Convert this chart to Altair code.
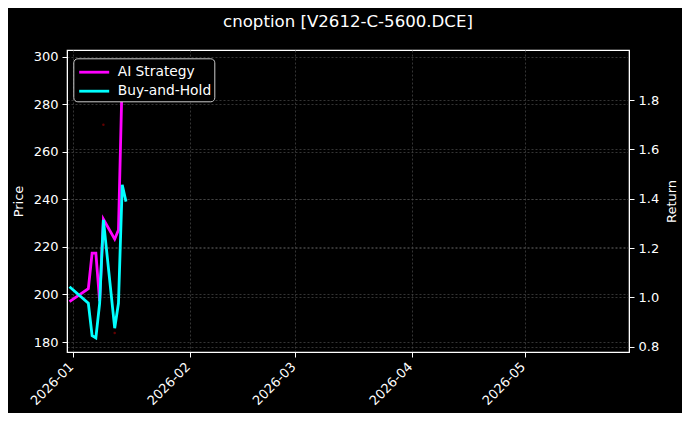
import altair as alt
import pandas as pd

# data
dates = ["2025-12-31", "2026-01-05", "2026-01-06", "2026-01-07", "2026-01-08",
         "2026-01-09", "2026-01-12", "2026-01-13", "2026-01-14", "2026-01-15"]
ai_strategy = [0.983, 1.035, 1.179, 1.179, 0.985, 1.317, 1.236, 1.273, 1.90, 1.947]
buy_hold = [1.043, 0.976, 0.845, 0.836, 0.976, 1.314, 0.875, 0.976, 1.456, 1.388]

signal_dates = ["2026-01-09", "2026-01-12"]
signal_prices = [271.4, 183.8]

month_ticks = [1, 2, 3, 4, 5]
price_ticks = [180, 200, 220, 240, 260, 280, 300]
return_ticks = [0.8, 1.0, 1.2, 1.4, 1.6, 1.8]

returns = pd.DataFrame({
    "date": [d + "T00:00:00" for d in dates] * 2,
    "value": ai_strategy + buy_hold,
    "series": ["AI Strategy"] * len(dates) + ["Buy-and-Hold"] * len(dates),
})
signals = pd.DataFrame({
    "date": [d + "T00:00:00" for d in signal_dates],
    "price": signal_prices,
})

font = "DejaVu Sans"
grid = dict(grid=True, gridColor="#4a4a4a", gridDash=[2, 2], gridWidth=0.7)

x_enc = alt.X(
    "date:T",
    scale=alt.Scale(domain=[alt.DateTime(year=2025, month=12, date=30, hours=8),
                            alt.DateTime(year=2026, month=5, date=28, hours=14)]),
    axis=alt.Axis(
        values=[alt.DateTime(year=2026, month=m, date=1) for m in month_ticks],
        format="%Y-%m", labelAngle=315, labelAlign="right", labelBaseline="top",
        labelOffset=-6.5, labelPadding=3, title=None, **grid,
    ),
)

price_layer = alt.Chart(signals).mark_circle(size=6, color="#8b0000", opacity=0.7).encode(
    x=x_enc,
    y=alt.Y("price:Q", scale=alt.Scale(domain=[175.8, 302.9], nice=False, zero=False),
            axis=alt.Axis(orient="left", values=price_ticks, title="Price", titlePadding=8, **grid)),
)

return_layer = alt.Chart(returns).mark_line(strokeWidth=2.8).encode(
    x=x_enc,
    y=alt.Y("value:Q", scale=alt.Scale(domain=[0.7785, 2.003], nice=False, zero=False),
            axis=alt.Axis(orient="right", values=return_ticks, format=".1f",
                          title="Return", titleAngle=270, titleBaseline="top",
                          titlePadding=7, **grid)),
    color=alt.Color(
        "series:N",
        scale=alt.Scale(domain=["AI Strategy", "Buy-and-Hold"], range=["#ff00ff", "#00ffff"]),
        legend=alt.Legend(
            title=None, orient="none", legendX=6.3, legendY=8.3,
            fillColor="#000000", strokeColor="#cccccc", cornerRadius=4, padding=2.4,
            symbolType="M-1.5,0L1.5,0", symbolSize=400, symbolStrokeWidth=2.8,
            symbolOffset=7, labelOffset=12, labelExpr="datum.label + ' '",
            labelFontSize=13.8, labelColor="white", labelFont=font, rowPadding=0,
        ),
    ),
)

chart = (
    alt.layer(price_layer, return_layer)
    .resolve_scale(y="independent")
    .properties(
        width=562, height=302,
        autosize=alt.AutoSizeParams(type="none"),
        padding={"left": 59, "top": 42, "right": 53, "bottom": 61},
        title=alt.TitleParams("cnoption [V2612-C-5600.DCE]", fontSize=16.6, fontWeight="normal",
                              color="white", font=font, offset=19),
    )
    .configure(background="black")
    .configure_view(stroke="white", strokeWidth=1.2)
    .configure_axis(
        domainColor="white", tickColor="white", tickSize=5, labelColor="white",
        labelFont=font, labelFontSize=13, titleColor="white", titleFont=font,
        titleFontSize=13, titleFontWeight="normal", labelPadding=4,
    )
)

chart.save("out.html", embed_options={"renderer": "svg", "actions": False})
